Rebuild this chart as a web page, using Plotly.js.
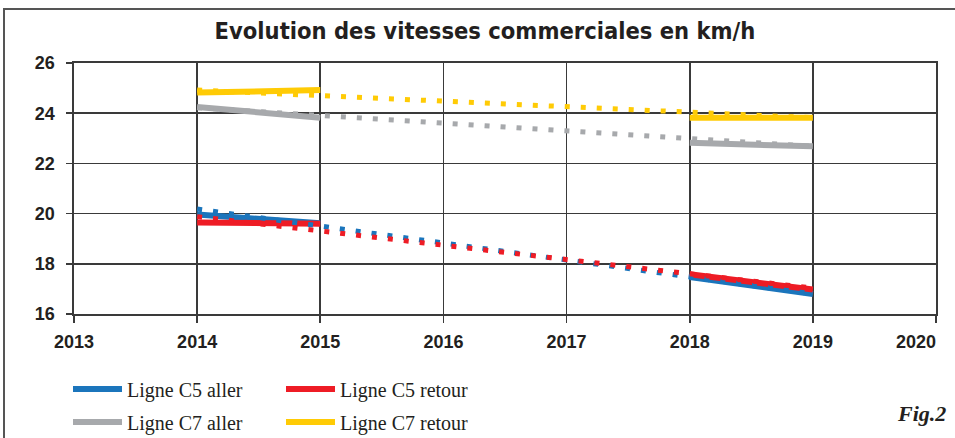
<!DOCTYPE html>
<html>
<head>
<meta charset="utf-8">
<script src="https://cdn.plot.ly/plotly-3.0.1.min.js"></script>
<style>html,body{margin:0;padding:0;background:#fff;}#chart{width:955px;height:438px;}</style>
</head>
<body>
<div id="chart"></div>
<script>
// ---- data ----
var years = [2014, 2015, 2016, 2017, 2018, 2019];
var c5Aller   = [19.96, 19.62, null, null, 17.47, 16.80];
var c5Retour  = [19.65, 19.60, null, null, 17.58, 16.98];
var c7Aller   = [24.25, 23.82, null, null, 22.82, 22.68];
var c7Retour  = [24.82, 24.92, null, null, 23.82, 23.82];
// trend lines, start 2014 / end 2019
var trendYears = [2014, 2019];
var c5AllerTrend  = [20.18, 16.80];
var c5RetourTrend = [19.88, 17.03];
var c7AllerTrend  = [24.22, 22.68];
var c7RetourTrend = [24.92, 23.82];
var seriesNames = ['Ligne C5 aller', 'Ligne C5 retour', 'Ligne C7 aller', 'Ligne C7 retour'];
var xTicks = [2013, 2014, 2015, 2016, 2017, 2018, 2019, 2020];
var xTickText = ['2013', '2014', '2015', '2016', '2017', '2018', '2019', '2020'];
var yTicks = [16, 18, 20, 22, 24, 26];

// ---- style ----
var colors = ['#1b75bc', '#ee1c25', '#a7a9ac', '#ffcb05'];
var W = 955, H = 438;
var M = {l: 74, r: 19, t: 63, b: 124};
var PW = W - M.l - M.r, PH = H - M.t - M.b;
function px(x) { return (x - M.l) / PW; }
function py(y) { return (H - M.b - y) / PH; }
function cx(x) { return x / W; }
function cy(y) { return 1 - y / H; }

var solid = [c5Aller, c5Retour, c7Aller, c7Retour];
var trends = [c5AllerTrend, c5RetourTrend, c7AllerTrend, c7RetourTrend];
var legends = ['legend', 'legend', 'legend2', 'legend2'];
var traces = [];
solid.forEach(function (ys, i) {
  traces.push({
    x: years, y: ys, type: 'scatter', mode: 'lines', name: seriesNames[i],
    connectgaps: false, legend: legends[i],
    line: {color: colors[i], width: 6}, hoverinfo: 'skip'
  });
});
trends.forEach(function (ys, i) {
  traces.push({
    x: trendYears, y: ys, type: 'scatter', mode: 'lines', showlegend: false,
    line: {color: colors[i], width: 5, dash: '5px,11px'}, hoverinfo: 'skip'
  });
});
// empty trace so the overlay axis (carrying the last year label) is drawn
traces.push({x: [null], y: [null], xaxis: 'x2', yaxis: 'y', type: 'scatter', mode: 'lines',
  showlegend: false, hoverinfo: 'skip'});

var txt = '#231f20';
var grid = '#3a3a3a';
var tickFont = {family: 'Liberation Sans, Arial, sans-serif', size: 18, color: txt, weight: 'bold'};
var legFont = {family: 'Liberation Serif, Times New Roman, serif', size: 20, color: txt};

var nX = xTicks.length;
// main axis: all ticks, labels for every year except the last one
var mainLabels = xTickText.map(function (t, i) { return i === nX - 1 ? '' : t; });

function legendCfg(yPix) {
  return {
    orientation: 'h', xref: 'container', yref: 'container',
    x: cx(68), xanchor: 'left', y: cy(yPix), yanchor: 'middle',
    font: legFont, itemwidth: 49, entrywidth: 149, entrywidthmode: 'pixels',
    bgcolor: 'rgba(0,0,0,0)', borderwidth: 0
  };
}

var layout = {
  width: W, height: H,
  margin: M,
  paper_bgcolor: '#fff', plot_bgcolor: '#fff',
  showlegend: true,
  title: {
    text: '<b>Evolution des vitesses commerciales en km/h</b>',
    xref: 'container', yref: 'container', x: 485 / W, xanchor: 'center',
    y: 1 - 31 / H, yanchor: 'middle',
    font: {family: 'Liberation Sans Narrow, DejaVu Sans Condensed, sans-serif', size: 23.5, color: txt}
  },
  xaxis: {
    range: [2013, 2020], tickvals: xTicks, ticktext: mainLabels,
    showgrid: true, gridcolor: grid, gridwidth: 1.6,
    zeroline: false, showline: true, linecolor: grid, linewidth: 1.6, mirror: true,
    ticks: 'outside', ticklen: 7, tickwidth: 1.6, tickcolor: grid,
    tickfont: tickFont, ticklabelstandoff: 4,
    automargin: false, fixedrange: true
  },
  // overlay axis carrying only the last year's label, pulled left inside the frame
  xaxis2: {
    overlaying: 'x', anchor: 'y', side: 'bottom',
    range: [2013, 2020], tickvals: [xTicks[nX - 1]], ticktext: [xTickText[nX - 1]],
    showgrid: false, zeroline: false, showline: false,
    ticks: 'outside', ticklen: 7, tickwidth: 1.6, tickcolor: 'rgba(0,0,0,0)',
    tickfont: tickFont, ticklabelstandoff: 4, ticklabelshift: -20,
    ticklabeloverflow: 'allow', automargin: false, fixedrange: true
  },
  yaxis: {
    range: [16, 26], tickvals: yTicks, ticktext: yTicks.map(String),
    showgrid: true, gridcolor: grid, gridwidth: 1.6,
    zeroline: false, showline: true, linecolor: grid, linewidth: 1.6, mirror: true,
    ticks: 'outside', ticklen: 6, tickwidth: 1.6, tickcolor: grid,
    tickfont: tickFont, ticklabelstandoff: 8, automargin: false, fixedrange: true
  },
  legend: legendCfg(389),
  legend2: legendCfg(422),
  shapes: [{
    type: 'path', xref: 'paper', yref: 'paper', layer: 'above',
    path: 'M' + px(4) + ',' + py(440) + ' L' + px(4) + ',' + py(9) + ' L' + px(958) + ',' + py(9),
    line: {color: '#555', width: 2}
  }],
  annotations: [{
    xref: 'paper', yref: 'paper', x: px(948), y: py(413), xanchor: 'right', yanchor: 'middle',
    text: '<b><i>Fig.2</i></b>', showarrow: false,
    font: {family: 'Liberation Serif, Times New Roman, serif', size: 22, color: txt}
  }]
};

Plotly.newPlot('chart', traces, layout, {staticPlot: true, displayModeBar: false});
</script>
</body>
</html>
